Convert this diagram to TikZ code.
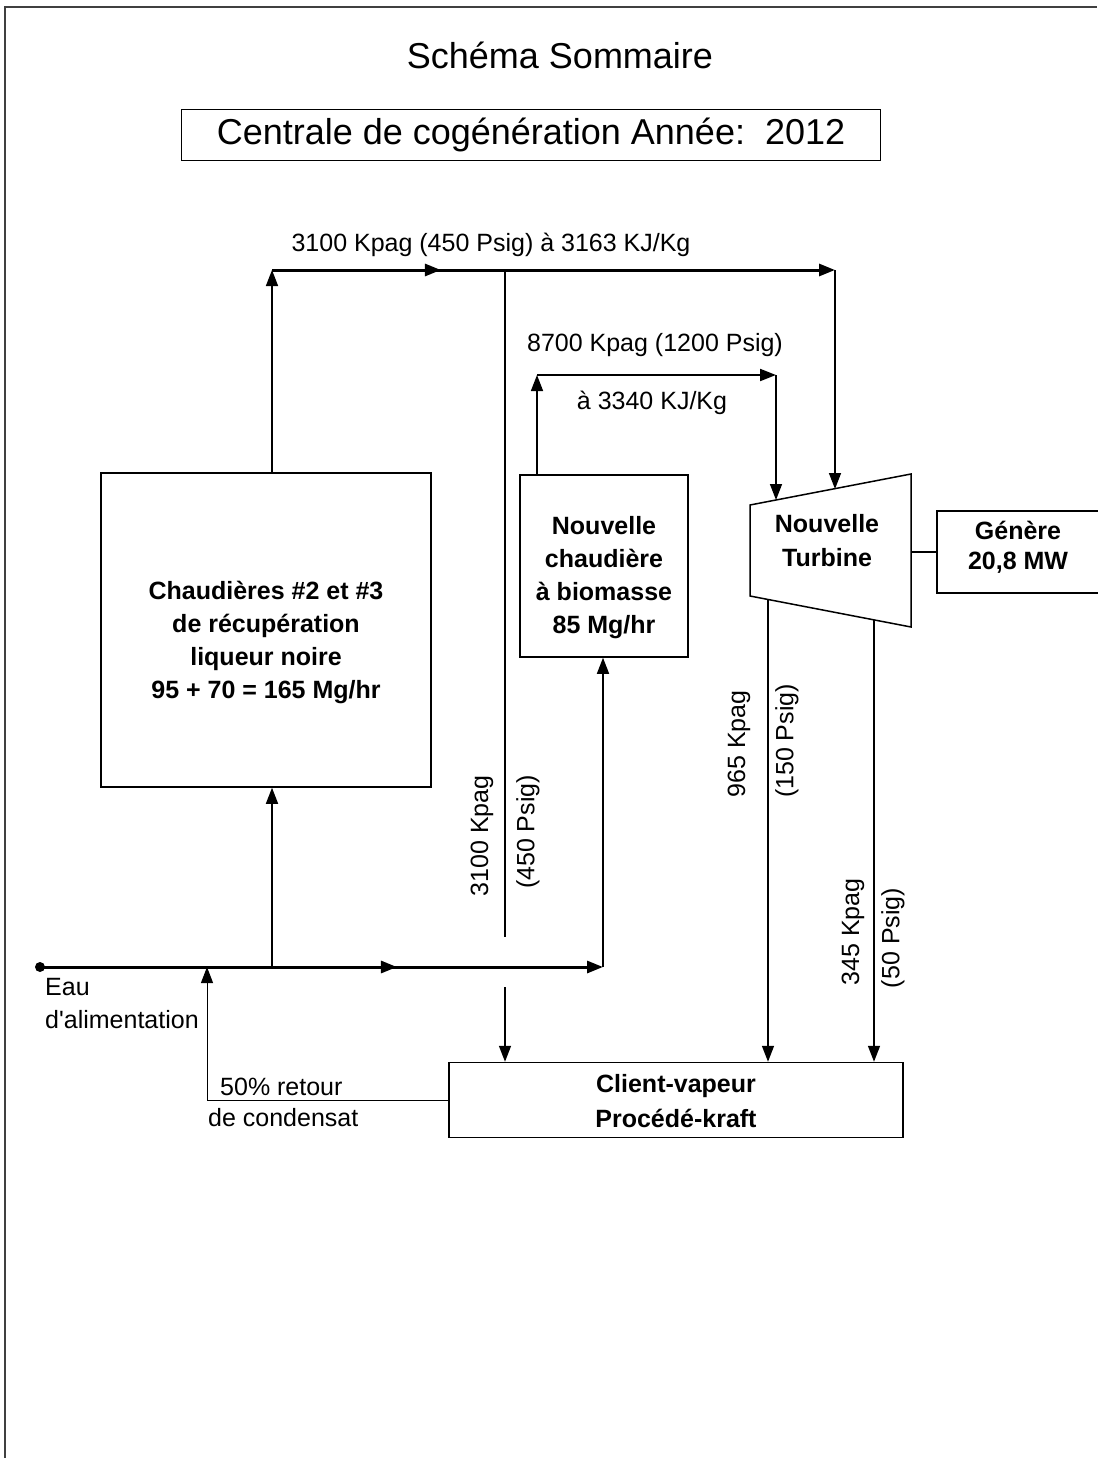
\documentclass[tikz,border=0pt]{standalone}
\usepackage{fontspec}
\setmainfont{Liberation Sans}
\usetikzlibrary{arrows.meta,decorations.markings,calc}
\tikzset{
  unit/.style={draw, line width=1.5pt, inner sep=0pt},
  unittext/.style={align=center, inner sep=0pt, font=\fontsize{25}{33}\selectfont\bfseries},
  lbl/.style={inner sep=0pt, font=\fontsize{25}{30}\selectfont},
  pipe/.style={line width=1.5pt, -{Triangle[length=16pt,width=12pt]}},
  header/.style={line width=3pt, -{Triangle[length=16pt,width=12pt]}},
  ret/.style={line width=1pt, -{Triangle[length=16pt,width=12pt]}},
  midtip/.style={postaction={decorate}, decoration={markings, mark=at position #1 with {\arrow{Triangle[length=16pt,width=12pt]}}}}
}

\begin{document}
\begin{tikzpicture}[x=1pt,y=-1pt]
  \useasboundingbox (0,0) rectangle (1097,1458);
  % page frame
  \draw[black!75, line width=2pt] (5,1458) -- (5,7) -- (1097,7);

  \node[inner sep=0pt, font=\fontsize{36}{40}\selectfont] (title) at (560,55) {Schéma Sommaire};
  \node[draw, line width=1.5pt, inner sep=0pt, minimum width=699pt, minimum height=51pt, font=\fontsize{36}{40}\selectfont] (year) at (531,135) {Centrale de cogénération Année:~~2012};

  % units
  \node[unit, minimum width=330pt, minimum height=314pt] (lbox) at (266,630) {};
  \node[unittext] (lboxTxt) at (266,642) {Chaudières \#2 et \#3\\de récupération\\liqueur noire\\95 + 70 = 165 Mg/hr};
  \node[unit, minimum width=168pt, minimum height=182pt] (bio) at (604,566) {};
  \node[unittext] (bioTxt) at (604,578) {Nouvelle\\chaudière\\à biomasse\\85 Mg/hr};
  \node[unit, minimum width=454pt, minimum height=75pt] (client) at (676,1100) {};
  \node[unittext, font=\fontsize{25}{35}\selectfont\bfseries] (clientTxt) at (676,1101) {Client-vapeur\\Procédé-kraft};
  \node[unit, minimum width=162pt, minimum height=82pt] (gen) at (1018,552) {};
  \node[unittext, font=\fontsize{25}{30}\selectfont\bfseries] (genTxt) at (1018,547) {Génère\\20,8 MW};

  % turbine
  \draw[line width=1.5pt] (750,505) -- (911,474) -- (911,627) -- (750,596) -- cycle;
  \node[unittext, font=\fontsize{25}{34}\selectfont\bfseries] (turb) at (827,541) {Nouvelle\\Turbine};

  \coordinate (hpL) at (272,270);
  \coordinate (hpR) at (835,270);
  \coordinate (tap) at (505,270);
  \coordinate (tapEnd) at (505,937);
  \coordinate (tapLow) at (505,987);
  \coordinate (hbL) at (537,375);
  \coordinate (hbR) at (776,375);
  \coordinate (tin1) at (776,500);
  \coordinate (tin2) at (835,489);
  \coordinate (tout1) at (768,600);
  \coordinate (tout2) at (874,620);
  \coordinate (turbR) at (911,552);
  \coordinate (feedS) at (40,967);
  \coordinate (feedE) at (603,967);
  \coordinate (feedL) at (272,967);
  \coordinate (feedR) at (207,967);

  \draw[pipe] (hpL |- lbox.north) -- (hpL);
  \draw[header, midtip=0.3] (hpL) -- (hpR);
  \draw[pipe] (hpR) -- (tin2);
  \draw[line width=1.5pt] (tap) -- (tapEnd);
  \draw[pipe] (tapLow) -- (tapLow |- client.north);
  \draw[pipe] (hbL |- bio.north) -- (hbL);
  \draw[line width=2pt, -{Triangle[length=16pt,width=12pt]}] (hbL) -- (hbR);
  \draw[pipe] (hbR) -- (tin1);
  \draw[pipe] (tout1) -- (tout1 |- client.north);
  \draw[pipe] (tout2) -- (tout2 |- client.north);
  \draw[line width=1.5pt] (turbR) -- (gen.west);
  \fill (feedS) circle (5);
  \draw[header, midtip=0.634] (feedS) -- (feedE);
  \draw[pipe] (feedE) -- (feedE |- bio.south);
  \draw[pipe] (feedL) -- (feedL |- lbox.south);
  \draw[ret] (client.west) -| (feedR);

  \node[lbl] (hpLbl) at (491,245) {3100 Kpag (450 Psig) à 3163 KJ/Kg};
  \node[lbl] (hbLbl) at (655,345) {8700 Kpag (1200 Psig)};
  \node[lbl] (hbLbl2) at (652,403) {à 3340 KJ/Kg};
  \node[lbl, rotate=90] (tapLblA) at (482,836) {3100 Kpag};
  \node[lbl, rotate=90] (tapLblB) at (528,832) {(450 Psig)};
  \node[lbl, rotate=90] (mpLblA) at (739,744) {965 Kpag};
  \node[lbl, rotate=90] (mpLblB) at (787,741) {(150 Psig)};
  \node[lbl, rotate=90] (lpLblA) at (853,932) {345 Kpag};
  \node[lbl, rotate=90] (lpLblB) at (893,938) {(50 Psig)};
  \node[lbl, anchor=west] (feedLblA) at (45,987) {Eau};
  \node[lbl, anchor=west] (feedLblB) at (45,1020) {d\textquotesingle alimentation};
  \node[lbl, anchor=west] (retLblA) at (220,1087) {50\% retour};
  \node[lbl, anchor=west] (retLblB) at (208,1118) {de condensat};
\end{tikzpicture}
\end{document}
